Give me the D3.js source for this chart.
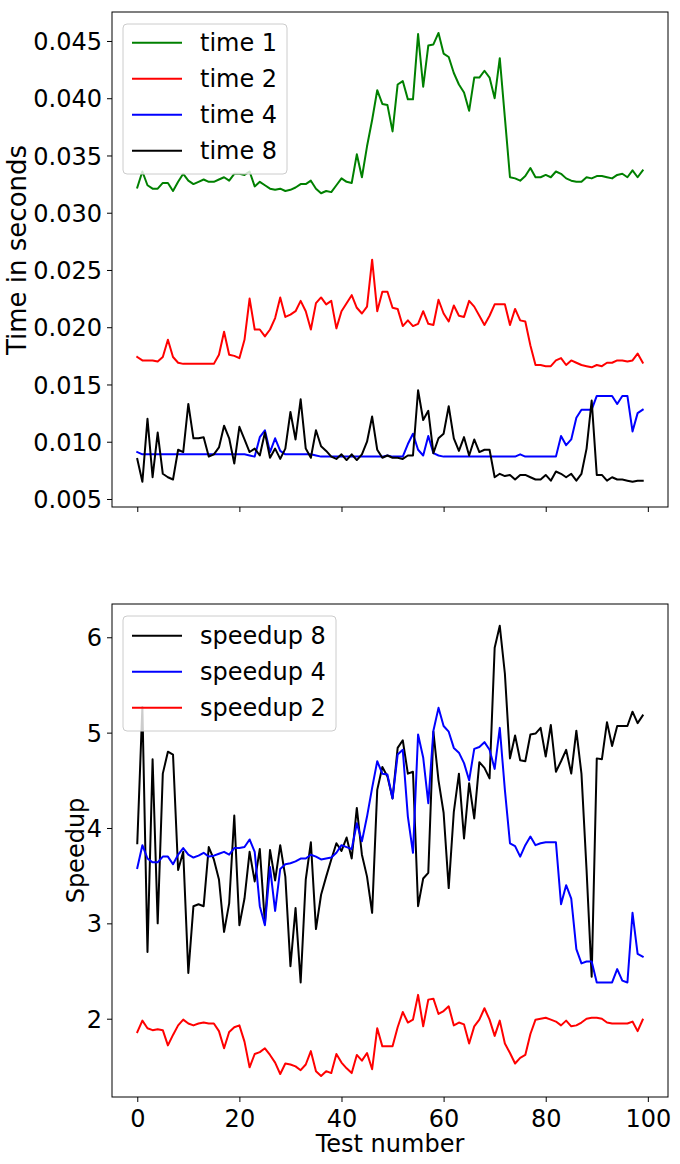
<!DOCTYPE html>
<html>
<head>
<meta charset="utf-8">
<script src="https://cdn.jsdelivr.net/npm/d3@7"></script>
<style>
  html, body { margin: 0; padding: 0; background: #fff; }
  svg { display: block; font-family: "DejaVu Sans", sans-serif; }
</style>
</head>
<body>
<svg id="chart" width="680" height="1164"></svg>
<script>
// ---------------- DATA ----------------
const testNumber = d3.range(0, 100);

const time1 = [0.0322,0.0336,0.0324,0.0321,0.0321,0.0326,0.0326,0.0319,0.0327,0.0334,
  0.0328,0.0325,0.0327,0.0329,0.0327,0.0327,0.0329,0.0331,0.0328,0.0334,
  0.0334,0.0333,0.0336,0.0323,0.0327,0.0324,0.0321,0.0320,0.0321,0.0319,
  0.0320,0.0322,0.0325,0.0325,0.0328,0.0321,0.0317,0.0319,0.0318,0.0324,
  0.0330,0.0327,0.0326,0.0351,0.0331,0.0358,0.0381,0.0407,0.0395,0.0394,
  0.0371,0.0412,0.0415,0.0399,0.0399,0.0456,0.0410,0.0446,0.0447,0.0457,
  0.0439,0.0436,0.0422,0.0412,0.0405,0.0389,0.0418,0.0418,0.0424,0.0418,
  0.0400,0.0435,0.0383,0.0331,0.0330,0.0328,0.0332,0.0339,0.0331,0.0331,
  0.0333,0.0331,0.0336,0.0334,0.0330,0.0328,0.0327,0.0327,0.0331,0.0330,
  0.0332,0.0332,0.0331,0.0330,0.0333,0.0334,0.0331,0.0337,0.0331,0.0337];

const time2 = [0.0174,0.0171,0.0171,0.0171,0.0170,0.0174,0.0189,0.0174,0.0169,0.0168,
  0.0168,0.0168,0.0168,0.0168,0.0168,0.0168,0.0176,0.0196,0.0176,0.0175,
  0.0173,0.0189,0.0225,0.0198,0.0198,0.0192,0.0198,0.0208,0.0226,0.0209,
  0.0211,0.0214,0.0223,0.0214,0.0198,0.0221,0.0226,0.0220,0.0223,0.0199,
  0.0214,0.0221,0.0228,0.0217,0.0212,0.0218,0.0259,0.0214,0.0231,0.0231,
  0.0217,0.0216,0.0201,0.0206,0.0201,0.0203,0.0214,0.0203,0.0202,0.0224,
  0.0212,0.0205,0.0219,0.0210,0.0209,0.0223,0.0218,0.0210,0.0202,0.0210,
  0.0220,0.0220,0.0220,0.0202,0.0216,0.0206,0.0205,0.0184,0.0167,0.0167,
  0.0166,0.0166,0.0171,0.0173,0.0167,0.0171,0.0169,0.0167,0.0166,0.0165,
  0.0167,0.0166,0.0169,0.0169,0.0171,0.0171,0.0170,0.0171,0.0177,0.0169];

const time4 = [0.0091,0.0089,0.0089,0.0089,0.0089,0.0089,0.0089,0.0089,0.0089,0.0089,
  0.0089,0.0089,0.0089,0.0089,0.0089,0.0089,0.0089,0.0089,0.0089,0.0089,
  0.0089,0.0089,0.0088,0.0087,0.0104,0.0110,0.0091,0.0103,0.0092,0.0089,
  0.0089,0.0089,0.0089,0.0089,0.0089,0.0088,0.0087,0.0087,0.0087,0.0087,
  0.0087,0.0087,0.0087,0.0087,0.0087,0.0087,0.0087,0.0087,0.0087,0.0088,
  0.0087,0.0087,0.0087,0.0098,0.0107,0.0093,0.0088,0.0105,0.0090,0.0088,
  0.0087,0.0087,0.0087,0.0087,0.0087,0.0087,0.0087,0.0087,0.0087,0.0087,
  0.0087,0.0087,0.0087,0.0087,0.0087,0.0089,0.0087,0.0087,0.0087,0.0087,
  0.0087,0.0087,0.0087,0.0105,0.0097,0.0102,0.0121,0.0128,0.0128,0.0128,
  0.0140,0.0140,0.0140,0.0140,0.0133,0.0140,0.0140,0.0109,0.0125,0.0128];

const time8 = [0.0085,0.0065,0.0120,0.0069,0.0108,0.0072,0.0069,0.0067,0.0093,0.0091,
  0.0133,0.0103,0.0103,0.0104,0.0087,0.0089,0.0095,0.0114,0.0103,0.0081,
  0.0113,0.0102,0.0091,0.0094,0.0088,0.0108,0.0086,0.0094,0.0085,0.0094,
  0.0126,0.0102,0.0137,0.0094,0.0086,0.0110,0.0096,0.0092,0.0087,0.0085,
  0.0089,0.0084,0.0089,0.0084,0.0089,0.0100,0.0122,0.0093,0.0086,0.0088,
  0.0086,0.0086,0.0085,0.0088,0.0088,0.0145,0.0119,0.0127,0.0090,0.0103,
  0.0107,0.0131,0.0103,0.0092,0.0104,0.0088,0.0102,0.0091,0.0093,0.0093,
  0.0069,0.0072,0.0070,0.0071,0.0067,0.0071,0.0071,0.0069,0.0067,0.0067,
  0.0071,0.0066,0.0074,0.0072,0.0069,0.0072,0.0066,0.0072,0.0094,0.0136,
  0.0071,0.0071,0.0066,0.0069,0.0067,0.0067,0.0066,0.0065,0.0066,0.0066];

const speedup8 = [3.84,5.27,2.70,4.72,3.00,4.57,4.80,4.77,3.56,3.75,
  2.48,3.18,3.20,3.18,3.80,3.67,3.46,2.91,3.21,4.13,
  2.98,3.26,3.75,3.44,3.78,3.00,3.77,3.45,3.82,3.49,
  2.55,3.16,2.38,3.46,3.85,2.94,3.30,3.49,3.67,3.84,
  3.76,3.90,3.68,4.21,3.72,3.49,3.11,4.40,4.64,4.54,
  4.31,4.84,4.92,4.57,4.59,3.18,3.47,3.53,5.01,4.50,
  4.16,3.37,4.17,4.57,3.89,4.47,4.10,4.69,4.63,4.52,
  5.89,6.12,5.62,4.73,4.97,4.71,4.70,4.98,4.99,5.05,
  4.75,5.08,4.59,4.70,4.82,4.57,5.02,4.57,3.56,2.44,
  4.73,4.72,5.11,4.86,5.07,5.07,5.07,5.22,5.10,5.18];

const speedup4 = [3.58,3.82,3.68,3.64,3.64,3.70,3.70,3.62,3.72,3.79,
  3.72,3.69,3.71,3.74,3.70,3.71,3.73,3.75,3.72,3.79,
  3.79,3.80,3.88,3.75,3.18,2.98,3.59,3.13,3.57,3.62,
  3.63,3.65,3.68,3.68,3.72,3.70,3.67,3.68,3.69,3.74,
  3.82,3.80,3.78,4.05,3.86,4.12,4.42,4.70,4.57,4.56,
  4.31,4.77,4.82,4.12,3.74,4.98,4.74,4.26,5.02,5.26,
  5.07,5.01,4.84,4.79,4.68,4.50,4.83,4.85,4.90,4.82,
  4.62,5.05,4.40,3.84,3.81,3.70,3.82,3.91,3.82,3.84,
  3.85,3.85,3.85,3.20,3.40,3.26,2.73,2.58,2.60,2.60,
  2.38,2.38,2.38,2.38,2.52,2.40,2.38,3.11,2.68,2.65];

const speedup2 = [1.86,1.98,1.90,1.88,1.89,1.88,1.72,1.83,1.93,1.99,
  1.95,1.93,1.95,1.96,1.95,1.95,1.87,1.69,1.86,1.91,
  1.93,1.76,1.49,1.63,1.65,1.69,1.62,1.54,1.42,1.53,
  1.52,1.50,1.46,1.52,1.66,1.45,1.40,1.45,1.43,1.63,
  1.54,1.48,1.43,1.62,1.56,1.64,1.47,1.90,1.71,1.71,
  1.71,1.91,2.07,1.96,1.99,2.25,1.92,2.20,2.21,2.05,
  2.08,2.13,1.93,1.96,1.94,1.74,1.92,1.99,2.11,1.99,
  1.82,1.98,1.74,1.64,1.53,1.59,1.62,1.84,1.99,2.00,
  2.01,1.99,1.97,1.93,1.98,1.92,1.93,1.96,2.00,2.01,
  2.01,2.00,1.96,1.95,1.95,1.95,1.95,1.97,1.87,1.99];

const xTicks = [0, 20, 40, 60, 80, 100];
const timeTicks = [0.005, 0.010, 0.015, 0.020, 0.025, 0.030, 0.035, 0.040, 0.045];
const speedTicks = [2, 3, 4, 5, 6];

const topSeries = [
  { label: "time 1", values: time1, color: "#008000" },
  { label: "time 2", values: time2, color: "#ff0000" },
  { label: "time 4", values: time4, color: "#0000ff" },
  { label: "time 8", values: time8, color: "#000000" }
];
const bottomSeries = [
  { label: "speedup 8", values: speedup8, color: "#000000" },
  { label: "speedup 4", values: speedup4, color: "#0000ff" },
  { label: "speedup 2", values: speedup2, color: "#ff0000" }
];

// ---------------- LAYOUT ----------------
const svg = d3.select("#chart");
const L = 112, R = 668;
const T1 = 12, B1 = 507, T2 = 604, B2 = 1097;
const FS = 24;

const x = d3.scaleLinear().domain([-4.95, 103.95]).range([L, R]);
const y1 = d3.scaleLinear().domain([0.0043, 0.04753]).range([B1, T1]);
const y2 = d3.scaleLinear().domain([1.179, 6.349]).range([B2, T2]);

function drawPanel(id, y, top, bottom, series, yTicks, yFmt, showXLabels) {
  const g = svg.append("g");
  g.append("clipPath").attr("id", id)
    .append("rect").attr("x", L).attr("y", top).attr("width", R - L).attr("height", bottom - top);

  const line = d3.line().x((d, i) => x(testNumber[i])).y(d => y(d));
  const lines = g.append("g").attr("clip-path", `url(#${id})`);
  series.forEach(s => {
    lines.append("path").datum(s.values)
      .attr("d", line)
      .attr("fill", "none")
      .attr("stroke", s.color)
      .attr("stroke-width", 2)
      .attr("stroke-linejoin", "round")
      .attr("stroke-linecap", "square");
  });

  // y axis
  const ya = g.append("g").attr("transform", `translate(${L},0)`)
    .call(d3.axisLeft(y).tickValues(yTicks).tickFormat(yFmt).tickSize(5).tickPadding(5));
  ya.select(".domain").remove();
  ya.selectAll("line").attr("stroke", "#000").attr("stroke-width", 1);
  ya.selectAll("text").attr("font-size", FS).attr("fill", "#000")
    .attr("font-family", "DejaVu Sans").attr("dy", "0.36em");

  // x axis
  const xa = g.append("g").attr("transform", `translate(0,${bottom})`)
    .call(d3.axisBottom(x).tickValues(xTicks).tickFormat(showXLabels ? d3.format("d") : () => "")
      .tickSize(5).tickPadding(6));
  xa.select(".domain").remove();
  xa.selectAll("line").attr("stroke", "#000").attr("stroke-width", 1);
  xa.selectAll("text").attr("font-size", FS).attr("fill", "#000")
    .attr("font-family", "DejaVu Sans").attr("dy", "0.78em");

  // frame
  g.append("rect").attr("x", L).attr("y", top).attr("width", R - L).attr("height", bottom - top)
    .attr("fill", "none").attr("stroke", "#000").attr("stroke-width", 1);
  return g;
}

function drawLegend(g, series, bx, by, bw, bh, rowY0) {
  const lg = g.append("g");
  lg.append("rect").attr("x", bx).attr("y", by).attr("width", bw).attr("height", bh)
    .attr("rx", 4).attr("ry", 4)
    .attr("fill", "#fff").attr("fill-opacity", 0.8)
    .attr("stroke", "#cccccc").attr("stroke-width", 1);
  series.forEach((s, i) => {
    const yy = rowY0 + i * 36;
    lg.append("line").attr("x1", 132).attr("x2", 182).attr("y1", yy).attr("y2", yy)
      .attr("stroke", s.color).attr("stroke-width", 2);
    lg.append("text").attr("x", 200).attr("y", yy).attr("dy", "0.36em")
      .attr("font-size", FS).attr("fill", "#000").text(s.label);
  });
}

const gTop = drawPanel("clipTop", y1, T1, B1, topSeries, timeTicks, d3.format(".3f"), false);
drawLegend(gTop, topSeries, 123, 24, 164, 150, 42.7);

const gBot = drawPanel("clipBot", y2, T2, B2, bottomSeries, speedTicks, d3.format("d"), true);
drawLegend(gBot, bottomSeries, 123, 616, 213, 115, 635.7);

// axis labels
svg.append("text").attr("transform", `translate(17,250) rotate(-90)`)
  .attr("text-anchor", "middle").attr("dy", "0.36em")
  .attr("font-size", 26).attr("fill", "#000").text("Time in seconds");
svg.append("text").attr("transform", `translate(75,${(T2 + B2) / 2}) rotate(-90)`)
  .attr("text-anchor", "middle").attr("dy", "0.36em")
  .attr("font-size", FS).attr("fill", "#000").text("Speedup");
svg.append("text").attr("x", (L + R) / 2).attr("y", 1152)
  .attr("text-anchor", "middle")
  .attr("font-size", FS).attr("fill", "#000").text("Test number");
</script>
</body>
</html>
